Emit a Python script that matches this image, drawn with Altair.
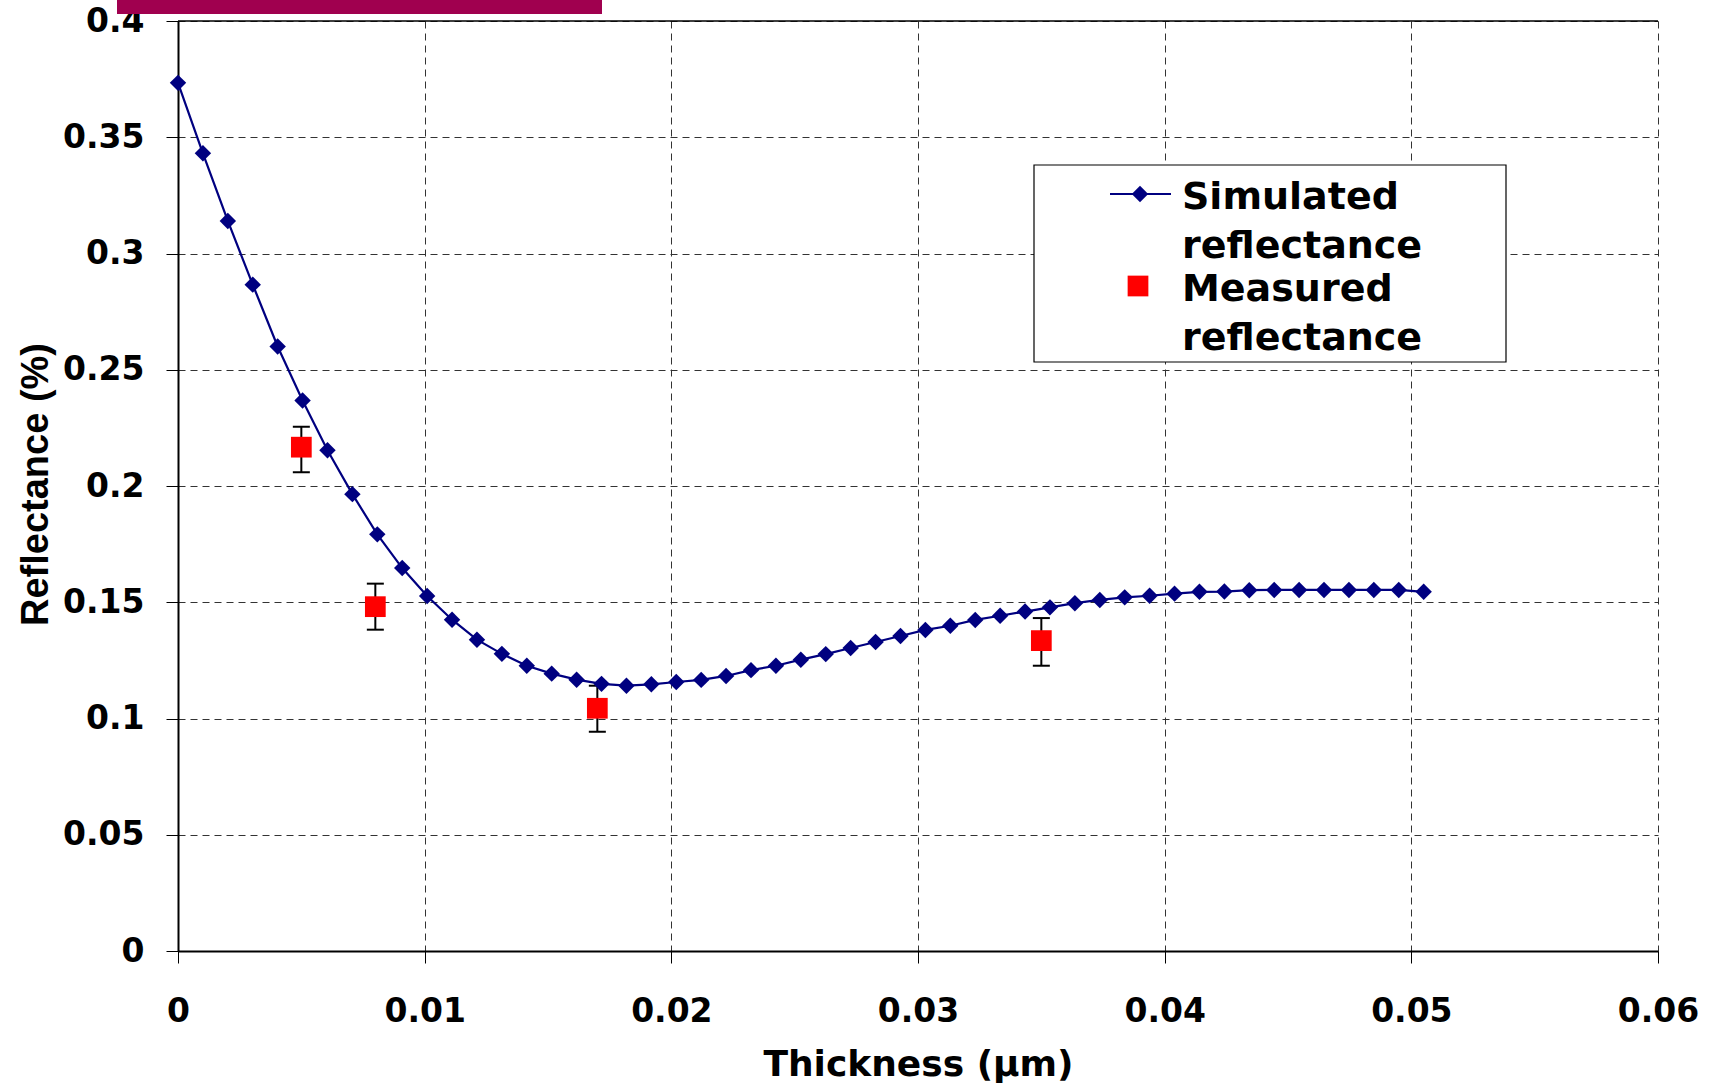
import altair as alt
import pandas as pd

# ---- data ----
SIM_THICKNESS = [0, 0.00101, 0.00202, 0.00303, 0.00404, 0.00505, 0.00606, 0.00707,
                 0.00808, 0.00909, 0.0101, 0.01111, 0.01212, 0.01313, 0.01414, 0.01515,
                 0.01616, 0.01717, 0.01818, 0.01919, 0.0202, 0.02121, 0.02222, 0.02323,
                 0.02424, 0.02525, 0.02626, 0.02727, 0.02828, 0.02929, 0.0303, 0.03131,
                 0.03232, 0.03333, 0.03434, 0.03535, 0.03636, 0.03737, 0.03838, 0.03939,
                 0.0404, 0.04141, 0.04242, 0.04343, 0.04444, 0.04545, 0.04646, 0.04747,
                 0.04848, 0.04949, 0.0505]
SIM_REFLECTANCE = [0.3734, 0.3431, 0.3140, 0.2866, 0.2600, 0.2368, 0.2154, 0.1965,
                   0.1792, 0.1647, 0.1527, 0.1425, 0.1339, 0.1278, 0.1227, 0.1193,
                   0.1167, 0.1149, 0.1141, 0.1147, 0.1157, 0.1166, 0.1183, 0.1208,
                   0.1227, 0.1253, 0.1277, 0.1303, 0.1329, 0.1355, 0.1381, 0.1399,
                   0.1424, 0.1442, 0.1460, 0.1478, 0.1496, 0.1510, 0.1521, 0.1528,
                   0.1537, 0.1545, 0.1546, 0.1552, 0.1553, 0.1553, 0.1553, 0.1553,
                   0.1553, 0.1553, 0.1545]

MEAS_THICKNESS = [0.005, 0.008, 0.017, 0.035]
MEAS_REFLECTANCE = [0.2167, 0.1481, 0.1044, 0.1335]
MEAS_LOW = [0.2059, 0.1382, 0.0943, 0.1227]
MEAS_HIGH = [0.2255, 0.1580, 0.1141, 0.1432]

X_TICKS = [0, 0.01, 0.02, 0.03, 0.04, 0.05, 0.06]
Y_TICKS = [0, 0.05, 0.1, 0.15, 0.2, 0.25, 0.3, 0.35, 0.4]
LEGEND_LABELS = ["Simulated reflectance", "Measured reflectance"]
X_TITLE = "Thickness (µm)"
Y_TITLE = "Reflectance (%)"

NAVY = "#000080"
RED = "#FF0000"
FONT = "DejaVu Sans"
DIAMOND_SIZE = 270

sim = pd.DataFrame({"t": SIM_THICKNESS, "r": SIM_REFLECTANCE})
meas = pd.DataFrame({"t": MEAS_THICKNESS, "r": MEAS_REFLECTANCE,
                     "lo": MEAS_LOW, "hi": MEAS_HIGH})
one = pd.DataFrame({"k": [0]})

xscale = alt.Scale(domain=[0, 0.06], nice=False, zero=False)
yscale = alt.Scale(domain=[0, 0.4], nice=False, zero=False)

xaxis = alt.Axis(values=X_TICKS, format="~g", grid=True, gridDash=[7, 5],
                 gridColor="#333333", gridWidth=1, domainColor="black", domainWidth=2,
                 tickColor="black", tickSize=12, tickWidth=1,
                 labelFont=FONT, labelFontWeight="bold", labelFontSize=33,
                 labelColor="black", labelPadding=32, labelFlush=False, labelOverlap=False,
                 title=X_TITLE, titleFont=FONT, titleFontWeight="bold", titleFontSize=36,
                 titleColor="black", titleY=124, titleBaseline="alphabetic")
yaxis = alt.Axis(values=Y_TICKS, format="~g", grid=True, gridDash=[7, 5],
                 gridColor="#333333", gridWidth=1, domainColor="black", domainWidth=2,
                 tickColor="black", tickSize=12, tickWidth=1,
                 labelFont=FONT, labelFontWeight="bold", labelFontSize=33,
                 labelColor="black", labelPadding=22, labelOverlap=False,
                 title=Y_TITLE, titleFont="Liberation Sans", titleFontWeight="bold",
                 titleFontSize=38, titleColor="black", titleX=-131, titleY=463,
                 titleBaseline="alphabetic")

X = alt.X("t:Q", scale=xscale, axis=xaxis)
Y = alt.Y("r:Q", scale=yscale, axis=yaxis)

base_sim = alt.Chart(sim)
line = base_sim.mark_line(color=NAVY, strokeWidth=2.2).encode(x=X, y=Y)
diamonds = base_sim.mark_point(shape="diamond", filled=True, color=NAVY,
                               size=DIAMOND_SIZE, opacity=1).encode(x="t:Q", y="r:Q")

base_meas = alt.Chart(meas)
err = base_meas.mark_rule(color="black", strokeWidth=2).encode(
    x="t:Q", y="lo:Q", y2="hi:Q")
cap_lo = base_meas.mark_tick(color="black", orient="horizontal", size=17,
                             thickness=2, opacity=1).encode(x="t:Q", y="lo:Q")
cap_hi = base_meas.mark_tick(color="black", orient="horizontal", size=17,
                             thickness=2, opacity=1).encode(x="t:Q", y="hi:Q")
squares = base_meas.mark_point(shape="square", filled=True, color=RED, size=430,
                               opacity=1).encode(x="t:Q", y="r:Q")

top_rule = alt.Chart(one).mark_rule(color="black", strokeWidth=1.5).encode(
    y=alt.datum(0.4))

# decorative bar at the top of the slide
bar = alt.Chart(one).mark_rect(color="#A0004F").encode(
    x=alt.value(-61), x2=alt.value(424), y=alt.value(-21), y2=alt.value(-7))

# legend
leg_box = alt.Chart(one).mark_rect(fill="white", stroke="black", strokeWidth=1.2).encode(
    x=alt.value(856), x2=alt.value(1328), y=alt.value(144), y2=alt.value(341))
leg_line = alt.Chart(one).mark_rule(color=NAVY, strokeWidth=2.2).encode(
    x=alt.value(932), x2=alt.value(993), y=alt.value(173))
leg_diamond = alt.Chart(one).mark_point(shape="diamond", filled=True, color=NAVY,
                                        size=DIAMOND_SIZE, opacity=1).encode(
    x=alt.value(962), y=alt.value(173))
leg_square = alt.Chart(one).mark_point(shape="square", filled=True, color=RED,
                                       size=430, opacity=1).encode(
    x=alt.value(960), y=alt.value(265))
leg_df1 = pd.DataFrame({"label": [LEGEND_LABELS[0]]})
leg_df2 = pd.DataFrame({"label": [LEGEND_LABELS[1]]})
txt_kw = dict(font=FONT, fontWeight="bold", fontSize=38, align="left", baseline="top",
              lineBreak=" ", lineHeight=49, color="black")
leg_t1 = alt.Chart(leg_df1).mark_text(**txt_kw).encode(
    text="label:N", x=alt.value(1004), y=alt.value(158))
leg_t2 = alt.Chart(leg_df2).mark_text(**txt_kw).encode(
    text="label:N", x=alt.value(1004), y=alt.value(250))

chart = alt.layer(
    line, err, cap_lo, cap_hi, diamonds, squares, top_rule, bar,
    leg_box, leg_line, leg_diamond, leg_square, leg_t1, leg_t2
).properties(
    width=1480, height=930,
    padding={"left": 178, "top": 21, "right": 54, "bottom": 140},
    autosize=alt.AutoSizeParams(type="none"),
    background="white",
).configure_view(stroke=None)

chart.save("out.html", embed_options={"renderer": "svg", "actions": False})
